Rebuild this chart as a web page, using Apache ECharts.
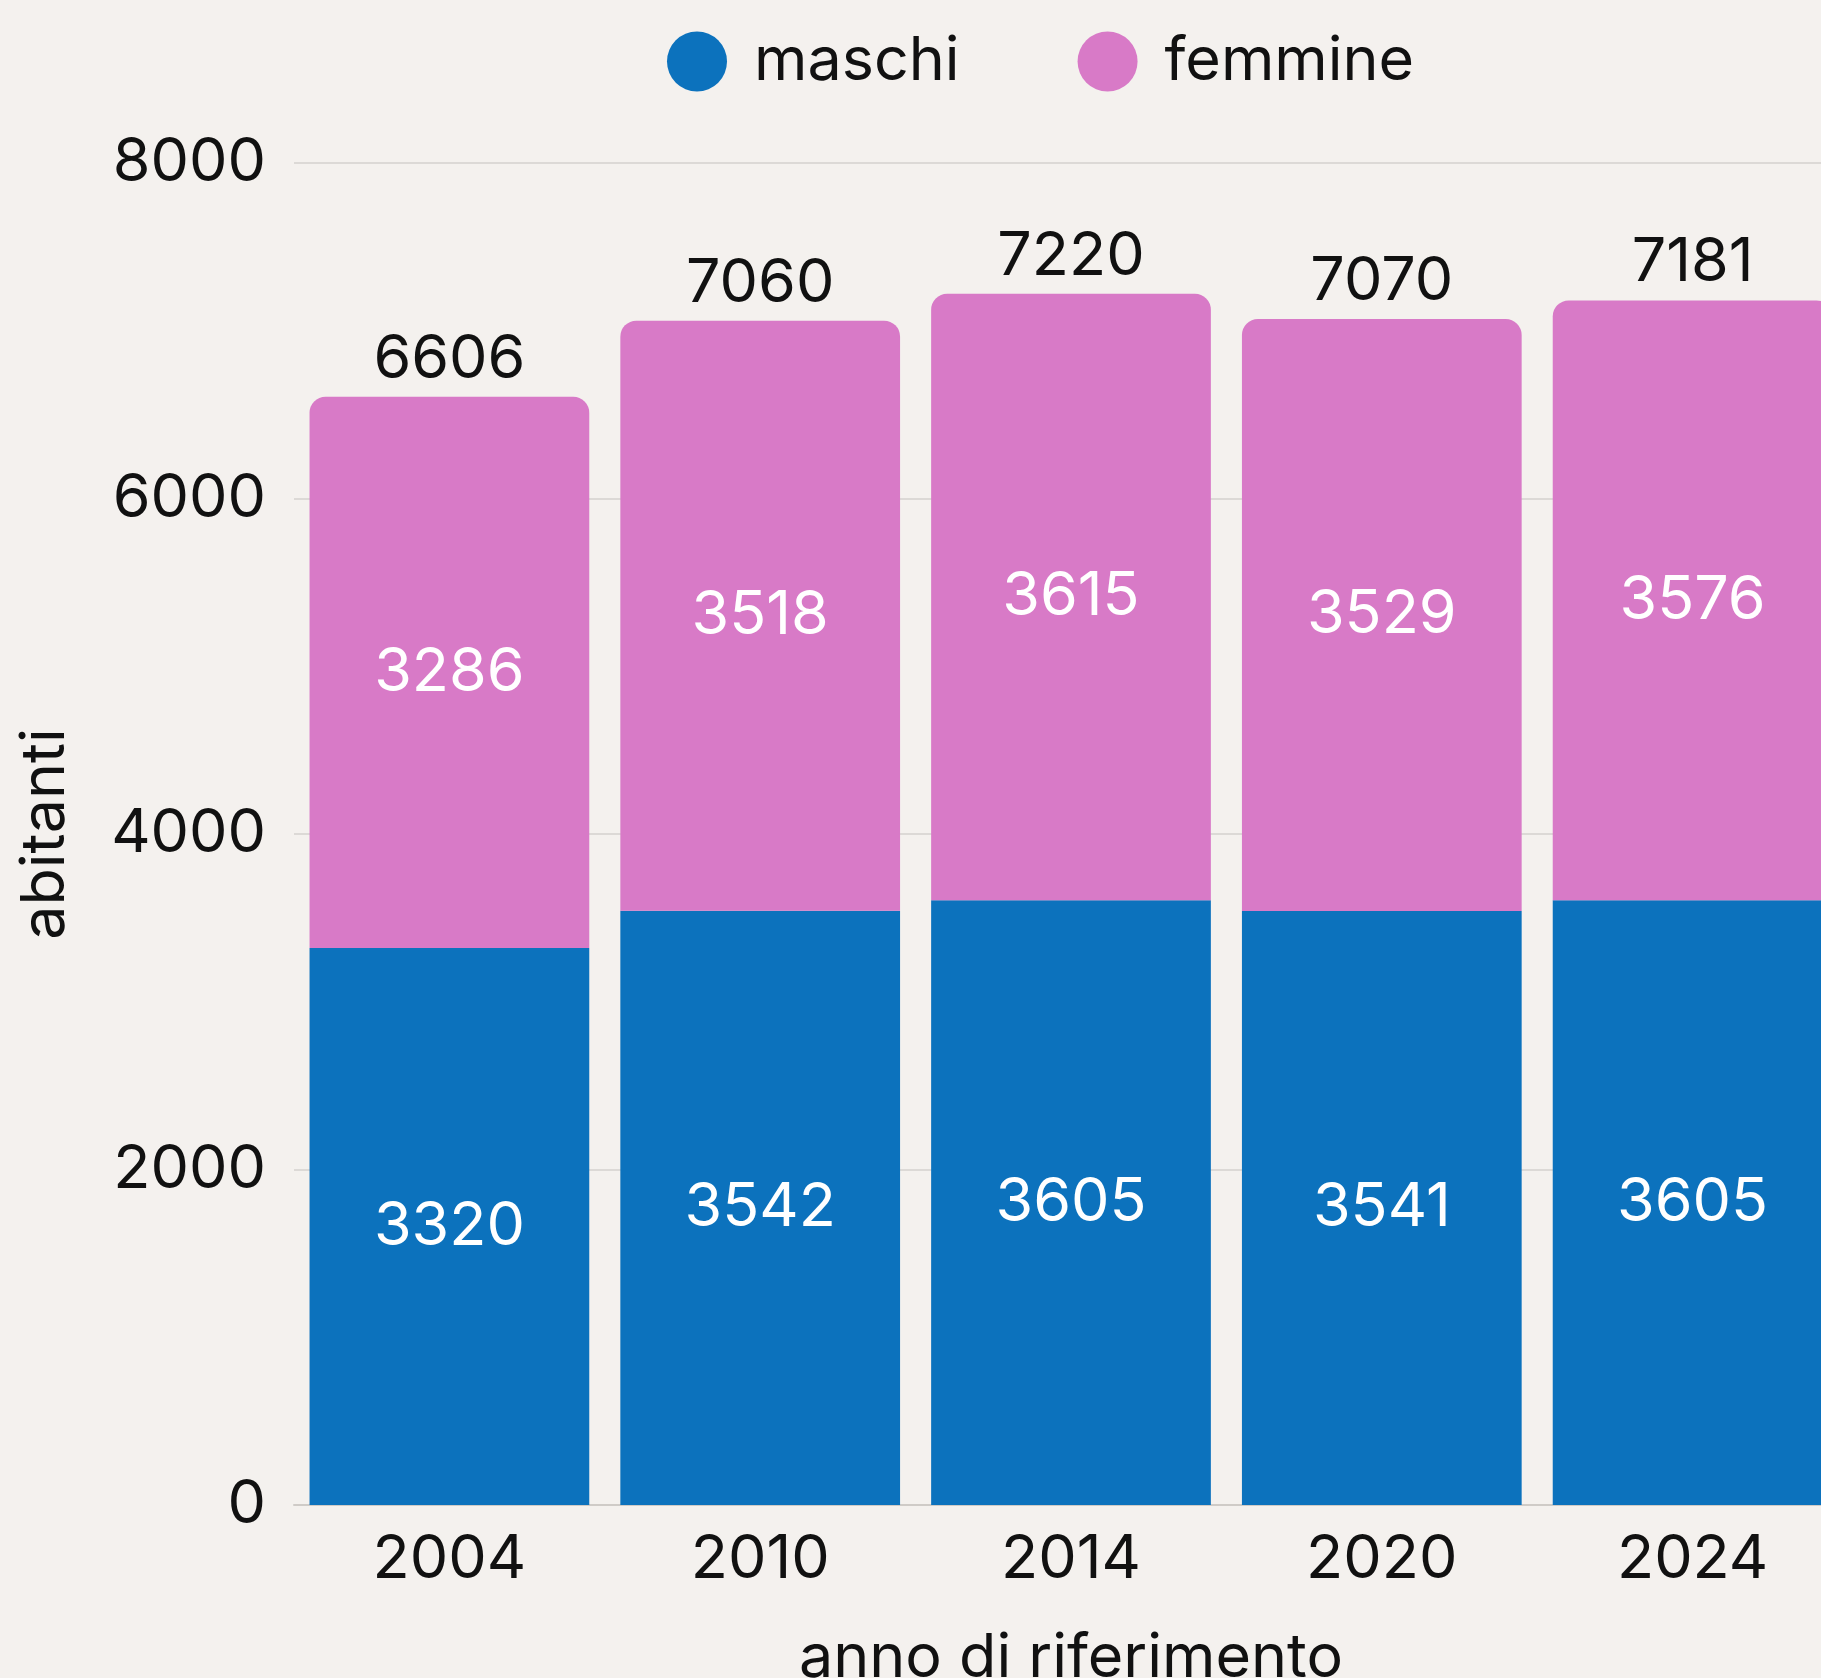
<!DOCTYPE html>
<html>
<head>
<meta charset="utf-8">
<script src="https://cdn.jsdelivr.net/npm/echarts@6/dist/echarts.min.js"></script>
<style>
  html, body { margin: 0; padding: 0; background: #f4f1ee; }
  #chart { width: 1821px; height: 1678px; }
</style>
</head>
<body>
<div id="chart"></div>
<script>
  var years = ['2004', '2010', '2014', '2020', '2024'];
  var maschi = [3320, 3542, 3605, 3541, 3605];
  var femmine = [3286, 3518, 3615, 3529, 3576];
  var totali = [6606, 7060, 7220, 7070, 7181];
  var yTicks = [0, 2000, 4000, 6000, 8000];

  var blue = '#0c72bd';
  var pink = '#d87ac7';
  var font = 'Inter';
  var fs = 61;

  var chart = echarts.init(document.getElementById('chart'));

  chart.setOption({
    backgroundColor: '#f4f1ee',
    animation: false,
    textStyle: { fontFamily: font },
    legend: {
      data: ['maschi', 'femmine'],
      top: 26,
      left: 662,
      icon: 'circle',
      itemWidth: 60,
      itemHeight: 60,
      itemGap: 118,
      textStyle: {
        fontFamily: font,
        fontSize: fs,
        color: '#111',
        padding: [0, 0, 0, 22]
      }
    },
    grid: {
      left: 294,
      width: 1554,
      top: 163,
      bottom: 173,
      outerBoundsMode: 'none',
      containLabel: false
    },
    xAxis: {
      type: 'category',
      data: years,
      name: 'anno di riferimento',
      nameLocation: 'middle',
      nameGap: 123,
      nameTextStyle: { fontSize: fs, color: '#111', fontFamily: font },
      axisLine: { show: true, lineStyle: { color: '#cfcbc7', width: 2 } },
      axisTick: { show: false },
      axisLabel: { fontSize: fs, color: '#111', margin: 24, fontFamily: font }
    },
    yAxis: {
      type: 'value',
      min: yTicks[0],
      max: yTicks[yTicks.length - 1],
      interval: 2000,
      name: 'abitanti',
      nameLocation: 'middle',
      nameRotate: 90,
      nameGap: 218,
      nameTextStyle: { fontSize: fs, color: '#111', fontFamily: font },
      axisLine: { show: false },
      axisTick: { show: false },
      axisLabel: {
        fontSize: fs,
        color: '#111',
        margin: 28,
        fontFamily: font,
        formatter: function (v) { return String(v); }
      },
      splitLine: { lineStyle: { color: '#dcd9d6', width: 2 } }
    },
    series: [{
      name: 'maschi',
      type: 'bar',
      stack: 'tot',
      data: maschi,
      barCategoryGap: '10%',
      itemStyle: { color: blue },
      label: {
        show: true,
        position: 'inside',
        color: '#fff',
        fontSize: fs,
        fontFamily: font
      }
    }, {
      name: 'femmine',
      type: 'bar',
      stack: 'tot',
      data: femmine,
      barCategoryGap: '10%',
      itemStyle: { color: pink, borderRadius: [16, 16, 0, 0] },
      label: {
        show: true,
        position: 'inside',
        color: '#fff',
        fontSize: fs,
        fontFamily: font
      }
    }, {
      name: 'totale',
      type: 'line',
      data: totali,
      symbol: 'circle',
      symbolSize: 2,
      showSymbol: true,
      itemStyle: { color: 'rgba(0,0,0,0)' },
      lineStyle: { width: 0, color: 'rgba(0,0,0,0)' },
      label: {
        show: true,
        position: 'top',
        distance: 6,
        color: '#111',
        fontSize: fs,
        fontFamily: font
      },
      z: 5
    }]
  });
</script>
</body>
</html>
